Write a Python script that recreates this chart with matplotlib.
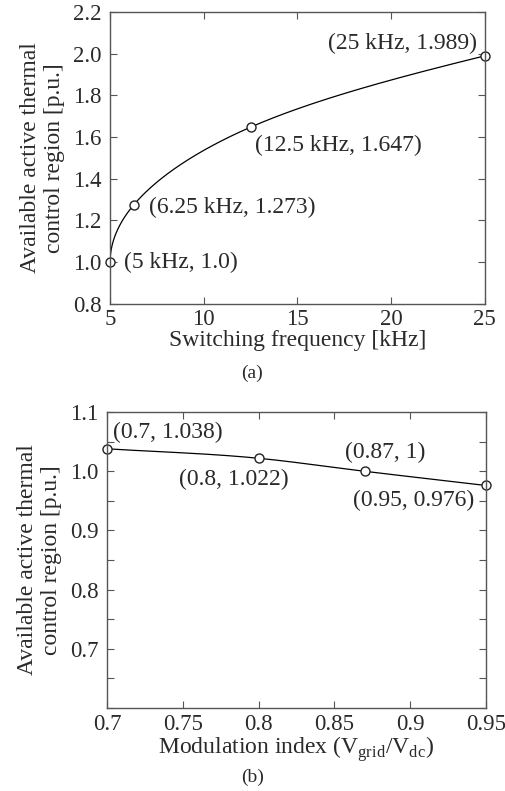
import matplotlib
matplotlib.use("Agg")
import matplotlib.pyplot as plt
import numpy as np

plt.rcParams['font.family'] = ['Liberation Serif', 'DejaVu Serif']
plt.rcParams['mathtext.fontset'] = 'custom'
plt.rcParams['mathtext.rm'] = 'Liberation Serif'

# data
freq_khz = [5, 6.25, 12.5, 25]
region_freq = [1.0, 1.273, 1.647, 1.989]
freq_labels = ["(5 kHz, 1.0)", "(6.25 kHz, 1.273)", "(12.5 kHz, 1.647)", "(25 kHz, 1.989)"]

mod_index = [0.7, 0.8, 0.87, 0.95]
region_mod = [1.038, 1.022, 1.0, 0.976]
mod_labels = ["(0.7, 1.038)", "(0.8, 1.022)", "(0.87, 1)", "(0.95, 0.976)"]

text_c = '#2a2a2a'
spine_c = '#555555'
tick_fs = 16.5
lab_fs = 17
ann_fs = 17


def smooth(x, y, warp=None, n=200):
    # cubic Hermite through the points, only for drawing the line
    x = np.asarray(x, float)
    y = np.asarray(y, float)
    u = np.sqrt(x - x[0]) if warp == 'sqrt' else x.copy()
    m = np.gradient(y, u)
    uu, yy = [], []
    for i in range(len(u) - 1):
        h = u[i + 1] - u[i]
        t = np.linspace(0, 1, n)
        h00 = 2 * t**3 - 3 * t**2 + 1
        h10 = t**3 - 2 * t**2 + t
        h01 = -2 * t**3 + 3 * t**2
        h11 = t**3 - t**2
        uu.append(u[i] + t * h)
        yy.append(h00 * y[i] + h10 * h * m[i] + h01 * y[i + 1] + h11 * h * m[i + 1])
    uu = np.concatenate(uu)
    yy = np.concatenate(yy)
    xx = x[0] + uu**2 if warp == 'sqrt' else uu
    return xx, yy


def style(ax):
    for s in ax.spines.values():
        s.set_color(spine_c)
        s.set_linewidth(1.0)
    ax.tick_params(direction='in', top=True, right=True, length=5, width=0.8,
                   colors=spine_c, labelcolor=text_c, labelsize=tick_fs)
    ax.tick_params(axis='y', pad=6)
    ax.tick_params(axis='x', pad=4)


fig = plt.figure(figsize=(5.05, 7.91), dpi=100)

# (a)
ax1 = fig.add_axes([0.218, 0.616, 0.742, 0.369])
xs, ys = smooth(freq_khz, region_freq, warp='sqrt')
ax1.plot(xs, ys, color='black', lw=0.9)
ax1.plot(freq_khz, region_freq, 'o', ms=6.5, mfc='white', mec='#222222', mew=1.0, clip_on=False)
ax1.set_xlim(5, 25)
ax1.set_ylim(0.8, 2.2)
ax1.set_xticks([5, 10, 15, 20, 25])
ax1.set_yticks(np.round(np.arange(0.8, 2.21, 0.2), 1))
ax1.set_yticklabels([f"{v:.1f}" for v in np.arange(0.8, 2.21, 0.2)])
style(ax1)
ax1.set_xlabel("Switching frequency [kHz]", fontsize=lab_fs, color=text_c, labelpad=0)
ax1.set_ylabel("Available active thermal\ncontrol region [p.u.]", fontsize=lab_fs,
               color=text_c, linespacing=1.15, labelpad=6)
pos1 = [(8.76, 0.997), (11.53, 1.26), (17.21, 1.558), (20.63, 2.05)]
for (tx, ty), lab in zip(pos1, freq_labels):
    ax1.text(tx, ty, lab, fontsize=ann_fs, color=text_c, ha='center', va='center')
fig.text(0.5, 1 - 373 / 791, "(a)", ha='center', va='center', fontsize=14, color=text_c)

# (b)
ax2 = fig.add_axes([0.212, 0.105, 0.750, 0.374])
xs, ys = smooth(mod_index, region_mod)
ax2.plot(xs, ys, color='black', lw=0.9)
ax2.plot(mod_index, region_mod, 'o', ms=6.5, mfc='white', mec='#222222', mew=1.0, clip_on=False)
ax2.set_xlim(0.7, 0.95)
ax2.set_ylim(0.6, 1.1)
xt = [0.7, 0.75, 0.8, 0.85, 0.9, 0.95]
ax2.set_xticks(xt)
ax2.set_xticklabels([f"{v:g}" for v in xt])
yt = np.round(np.arange(0.6, 1.101, 0.05), 2)
ax2.set_yticks(yt)
ax2.set_yticklabels([f"{v:.1f}" if (round(v * 100) % 10 == 0 and v > 0.65) else "" for v in yt])
style(ax2)
ax2.set_xlabel("Modulation index (V$_\\mathregular{grid}$/V$_\\mathregular{dc}$)",
               fontsize=lab_fs, color=text_c, labelpad=0)
ax2.set_ylabel("Available active thermal\ncontrol region [p.u.]", fontsize=lab_fs,
               color=text_c, linespacing=1.15, labelpad=6)
pos2 = [(0.7402, 1.066), (0.7834, 0.987), (0.8837, 1.032), (0.9025, 0.951)]
for (tx, ty), lab in zip(pos2, mod_labels):
    ax2.text(tx, ty, lab, fontsize=ann_fs, color=text_c, ha='center', va='center')
fig.text(0.5, 1 - 777 / 791, "(b)", ha='center', va='center', fontsize=14, color=text_c)

fig.savefig("out.png", dpi=100)
